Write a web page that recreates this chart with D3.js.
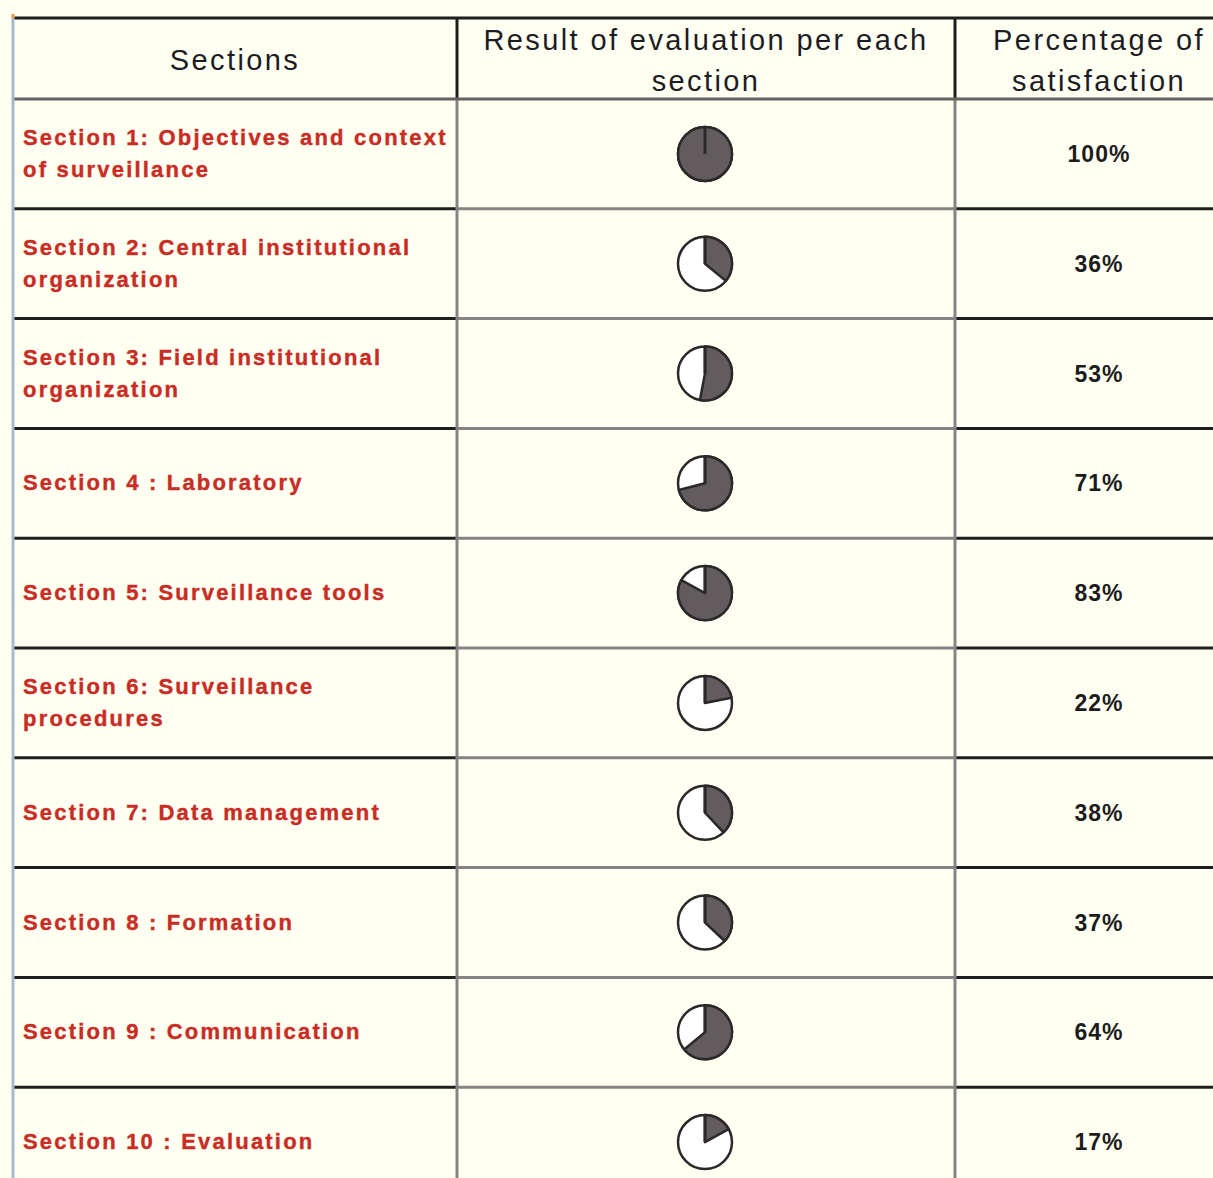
<!DOCTYPE html>
<html>
<head>
<meta charset="utf-8">
<script src="https://cdn.jsdelivr.net/npm/d3@7"></script>
<style>
  body { margin: 0; background: #fffff2; }
  svg { display: block; }
</style>
</head>
<body>
<div class="chart"></div>
<script>
// Sections evaluated and their satisfaction level
var sections = ['Section 1: Objectives and context of surveillance',
                'Section 2: Central institutional organization',
                'Section 3: Field institutional organization',
                'Section 4 : Laboratory',
                'Section 5: Surveillance tools',
                'Section 6: Surveillance procedures',
                'Section 7: Data management',
                'Section 8 : Formation',
                'Section 9 : Communication',
                'Section 10 : Evaluation'];
var satisfaction = [100, 36, 53, 71, 83, 22, 38, 37, 64, 17];
var headers = [['Sections'], ['Result of evaluation per each', 'section'], ['Percentage of', 'satisfaction']];

var width = 1213;
var height = 1178;
var svg = d3.select(".chart")
    .append("svg")
    .attr("width", width)
    .attr("height", height);

// column edges (last one runs past the window)
var cols = [13, 457, 955, 1243];
var headTop = 18, headBottom = 99, rowH = 109.8;

var yScale = d3.scaleBand()
    .domain(d3.range(sections.length))
    .range([headBottom, headBottom + rowH * sections.length]);

var pieR = d3.scaleLinear().domain([0, 100]).range([0, 2 * Math.PI]);
var arc = d3.arc().innerRadius(0).outerRadius(27);

var dark = "#1e1e1e", grey = "#858383";

// Row separators: dark in first and last column, grey in the middle one
var rowLines = svg.append("g");
d3.range(1, sections.length).forEach(function(i) {
    var y = yScale(i);
    [[0, dark], [1, grey], [2, dark]].forEach(function(c) {
        rowLines.append("line")
            .attr("x1", cols[c[0]]).attr("x2", cols[c[0] + 1])
            .attr("y1", y).attr("y2", y)
            .attr("stroke", c[1]).attr("stroke-width", 3);
    });
});

// Vertical separators
[1, 2].forEach(function(c) {
    svg.append("line")
        .attr("x1", cols[c]).attr("x2", cols[c])
        .attr("y1", headTop).attr("y2", headBottom)
        .attr("stroke", dark).attr("stroke-width", 3);
    svg.append("line")
        .attr("x1", cols[c]).attr("x2", cols[c])
        .attr("y1", headBottom).attr("y2", height)
        .attr("stroke", grey).attr("stroke-width", 3);
});

// Header bottom and top border, left edge
svg.append("line")
    .attr("x1", cols[0]).attr("x2", width)
    .attr("y1", headBottom).attr("y2", headBottom)
    .attr("stroke", "#666262").attr("stroke-width", 3);
svg.append("line")
    .attr("x1", cols[0]).attr("x2", width)
    .attr("y1", headTop).attr("y2", headTop)
    .attr("stroke", dark).attr("stroke-width", 3);
svg.append("line")
    .attr("x1", cols[0]).attr("x2", cols[0])
    .attr("y1", 14).attr("y2", height)
    .attr("stroke", "#a9b9cc").attr("stroke-width", 3);
svg.append("rect")
    .attr("x", 11.5).attr("y", 14).attr("width", 3).attr("height", 4)
    .attr("fill", "#f0a040");

// Header texts
headers.forEach(function(lines, c) {
    var cx = (cols[c] + cols[c + 1]) / 2;
    var t = svg.append("text")
        .attr("text-anchor", "middle")
        .style("font-family", "'Liberation Sans', Arial, sans-serif")
        .style("font-size", "29px")
        .style("letter-spacing", "2.4px")
        .attr("fill", "#1c1c24");
    var base = lines.length == 1 ? 70 : 50;
    lines.forEach(function(l, i) {
        t.append("tspan").attr("x", cx).attr("y", base + i * 41).text(l);
    });
});

// Section labels, wrapped to the column width
var labels = svg.selectAll(".label")
    .data(sections)
    .enter()
    .append("text")
    .attr("class", "label")
    .style("font-family", "'Liberation Sans', Arial, sans-serif")
    .style("font-weight", "bold")
    .style("font-size", "22px")
    .style("letter-spacing", "2.2px")
    .attr("fill", "#c82c24")
    .attr("stroke", "#c82c24")
    .attr("stroke-width", 0.4);

labels.each(function(d, i) {
    var text = d3.select(this);
    var words = d.split(" ");
    var lines = [];
    var line = [];
    var probe = text.append("tspan");
    words.forEach(function(w) {
        line.push(w);
        probe.text(line.join(" "));
        if (probe.node().getComputedTextLength() > 436 && line.length > 1) {
            line.pop();
            lines.push(line.join(" "));
            line = [w];
        }
    });
    lines.push(line.join(" "));
    probe.remove();
    var cy = yScale(i) + yScale.bandwidth() / 2;
    lines.forEach(function(l, k) {
        text.append("tspan")
            .attr("x", 23)
            .attr("y", cy + 7 + (k - (lines.length - 1) / 2) * 32)
            .text(l);
    });
});

// Pie glyphs
var pies = svg.selectAll(".pie")
    .data(satisfaction)
    .enter()
    .append("g")
    .attr("class", "pie")
    .attr("transform", function(d, i) {
        return "translate(" + 705 + "," + (yScale(i) + yScale.bandwidth() / 2) + ")";
    });
pies.append("circle")
    .attr("r", 27)
    .attr("fill", "#ffffff")
    .attr("stroke", "#2c2829")
    .attr("stroke-width", 2.5);
pies.append("path")
    .attr("d", function(d) {
        return arc({startAngle: 0, endAngle: pieR(d)});
    })
    .attr("fill", "#625c5e")
    .attr("stroke", "#2c2829")
    .attr("stroke-width", 2.5)
    .attr("stroke-linejoin", "round");
pies.append("line")
    .attr("x1", 0).attr("y1", 0)
    .attr("x2", 0).attr("y2", -27)
    .attr("stroke", "#2c2829")
    .attr("stroke-width", 3);

// Percentages
svg.selectAll(".pct")
    .data(satisfaction)
    .enter()
    .append("text")
    .attr("class", "pct")
    .attr("text-anchor", "middle")
    .attr("x", 1099)
    .attr("y", function(d, i) {
        return yScale(i) + yScale.bandwidth() / 2 + 8;
    })
    .style("font-family", "'Liberation Sans', Arial, sans-serif")
    .style("font-weight", "bold")
    .style("font-size", "23px")
    .style("letter-spacing", "1px")
    .attr("fill", "#1c1c1c")
    .text(function(d) { return d + "%"; });
</script>
</body>
</html>
